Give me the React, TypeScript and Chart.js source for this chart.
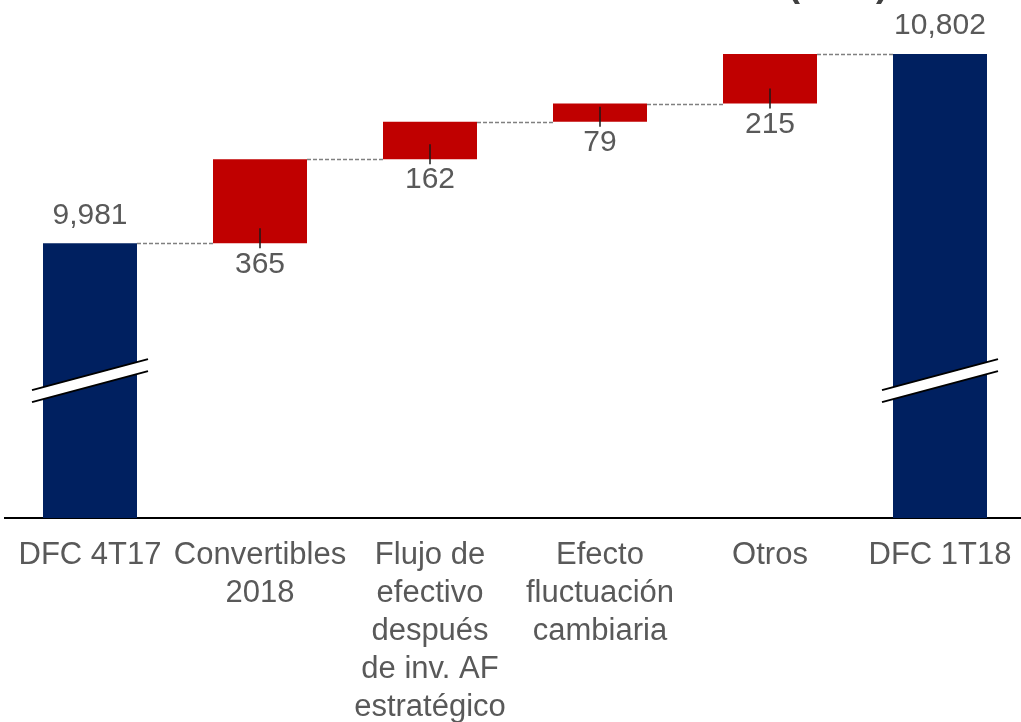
import React, { useEffect, useRef } from "react";
import { Chart, registerables } from "chart.js";

Chart.register(...registerables);

// Categories along the x axis (multi-line labels as arrays)
const categories: (string | string[])[] = [
  "DFC 4T17",
  ["Convertibles", "2018"],
  ["Flujo de", "efectivo", "después", "de inv. AF", "estratégico"],
  ["Efecto", "fluctuación", "cambiaria"],
  "Otros",
  ["DFC 1T18"],
];

// Opening and closing balances, and the movements between them
const openingBalance = 9981;
const movements = [365, 162, 79, 215];
const closingBalance = 10802;

// Broken value axis: bars start from this floor
const axisFloor = 8790;
const axisCeil = 11036;

const unitLabel = "(mdd)";

const NAVY = "#002060";
const RED = "#C00000";
const TEXT = "#595959";
const FONT = "'Liberation Sans', Arial, sans-serif";

const fmt = (v: number) => v.toLocaleString("en-US");

export default function App() {
  const ref = useRef<HTMLCanvasElement | null>(null);

  useEffect(() => {
    document.body.style.margin = "0";
    document.body.style.overflow = "hidden";
    const canvas = ref.current;
    if (!canvas) return;

    // Floating bar ranges for the waterfall
    const ranges: [number, number][] = [[axisFloor, openingBalance]];
    const values: number[] = [openingBalance];
    let running = openingBalance;
    for (const m of movements) {
      ranges.push([running, running + m]);
      values.push(m);
      running += m;
    }
    ranges.push([axisFloor, closingBalance]);
    values.push(closingBalance);
    const colors = ranges.map((_, i) =>
      i === 0 || i === ranges.length - 1 ? NAVY : RED
    );
    const isTotal = (i: number) => i === 0 || i === ranges.length - 1;

    const overlay = {
      id: "waterfallOverlay",
      afterDatasetsDraw(chart: any) {
        const { ctx } = chart;
        const meta = chart.getDatasetMeta(0);
        const y = chart.scales.y;
        const bars = meta.data as any[];

        ctx.save();
        // dashed connectors between consecutive bars
        ctx.strokeStyle = "#808080";
        ctx.lineWidth = 1.5;
        ctx.setLineDash([4, 2]);
        for (let i = 0; i < bars.length - 1; i++) {
          const level = ranges[i][1];
          const py = Math.round(y.getPixelForValue(level)) + 0.5;
          const a = bars[i];
          const b = bars[i + 1];
          ctx.beginPath();
          ctx.moveTo(a.x + a.width / 2, py);
          ctx.lineTo(b.x - b.width / 2, py);
          ctx.stroke();
        }
        ctx.setLineDash([]);

        // break marks across the total bars
        const basePx = y.getPixelForValue(axisFloor);
        const breakY = (basePx + y.getPixelForValue(openingBalance)) / 2;
        [0, bars.length - 1].forEach((i) => {
          const cx = bars[i].x;
          const half = 58;
          const rise = 15.5;
          const gap = 12;
          const x1 = cx - half;
          const x2 = cx + half;
          const t1 = breakY - gap / 2 + rise;
          const t2 = breakY - gap / 2 - rise;
          ctx.fillStyle = "#ffffff";
          ctx.beginPath();
          ctx.moveTo(x1, t1);
          ctx.lineTo(x2, t2);
          ctx.lineTo(x2, t2 + gap);
          ctx.lineTo(x1, t1 + gap);
          ctx.closePath();
          ctx.fill();
          ctx.strokeStyle = "#000000";
          ctx.lineWidth = 2;
          ctx.beginPath();
          ctx.moveTo(x1, t1);
          ctx.lineTo(x2, t2);
          ctx.moveTo(x1, t1 + gap);
          ctx.lineTo(x2, t2 + gap);
          ctx.stroke();
        });

        // value labels
        ctx.font = `30px ${FONT}`;
        ctx.fillStyle = TEXT;
        ctx.textAlign = "center";
        ctx.textBaseline = "middle";
        bars.forEach((bar, i) => {
          if (isTotal(i)) {
            const top = y.getPixelForValue(ranges[i][1]);
            ctx.fillText(fmt(values[i]), bar.x, top - 28);
          } else {
            const bottom = y.getPixelForValue(ranges[i][0]);
            ctx.strokeStyle = "#1a1a1a";
            ctx.lineWidth = 1.5;
            ctx.beginPath();
            ctx.moveTo(bar.x, bottom - 15);
            ctx.lineTo(bar.x, bottom + 5);
            ctx.stroke();
            ctx.fillText(fmt(values[i]), bar.x, bottom + 21);
          }
        });

        // unit caption, clipped by the top edge
        ctx.font = `bold 36px ${FONT}`;
        ctx.textAlign = "left";
        ctx.textBaseline = "alphabetic";
        ctx.fillStyle = "#404040";
        ctx.fillText(unitLabel, 788, -4);
        ctx.restore();
      },
    };

    const chart = new Chart(canvas, {
      type: "bar",
      data: {
        labels: categories,
        datasets: [
          {
            data: ranges as any,
            backgroundColor: colors,
            borderWidth: 0,
            borderSkipped: false,
            categoryPercentage: 94 / 170,
            barPercentage: 1,
          },
        ],
      },
      options: {
        responsive: false,
        animation: false,
        devicePixelRatio: 1,
        layout: { padding: { left: 5, right: 5, top: 0, bottom: 0 } },
        plugins: {
          legend: { display: false },
          tooltip: { enabled: false },
          title: { display: false },
        },
        scales: {
          x: {
            grid: { display: false, drawTicks: false },
            border: { display: true, color: "#000000", width: 2 },
            ticks: {
              autoSkip: false,
              maxRotation: 0,
              minRotation: 0,
              padding: 18,
              color: TEXT,
              font: { family: FONT, size: 31, lineHeight: 38 / 31 },
            },
          },
          y: {
            display: false,
            min: axisFloor,
            max: axisCeil,
          },
        },
      },
      plugins: [overlay],
    });

    return () => chart.destroy();
  }, []);

  return (
    <div style={{ width: 1021, height: 722, overflow: "hidden" }}>
      <canvas ref={ref} width={1030} height={744} style={{ display: "block" }} />
    </div>
  );
}
